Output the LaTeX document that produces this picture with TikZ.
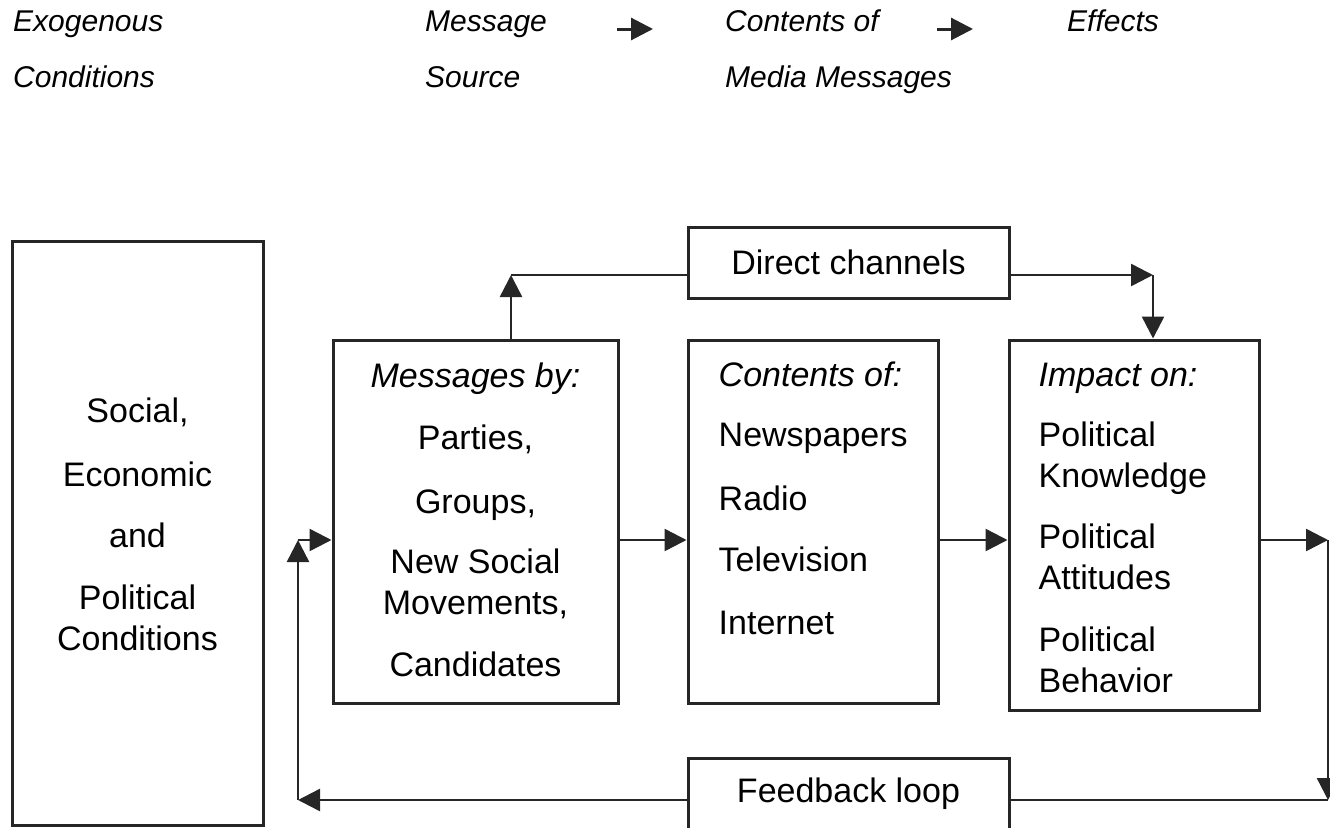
\documentclass[tikz,border=0pt]{standalone}
\usepackage{fontspec}
\setmainfont{Liberation Sans}
\usetikzlibrary{positioning,arrows.meta}
\tikzset{
	box/.style={draw=black!85, line width=3pt, inner sep=0pt},
	body/.style={font=\fontsize{34}{41}\selectfont, inner sep=0pt},
	head/.style={font=\fontsize{30}{56}\selectfont\itshape, inner sep=0pt, align=left, anchor=north west},
	link/.style={draw=black!85, line width=2.5pt},
	arr/.style={link, -{Triangle[length=22pt,width=22pt]}},
	harr/.style={link, line width=3pt, -{Triangle[length=22pt,width=22pt]}},
}
\begin{document}
\begin{tikzpicture}[x=1pt, y=-1pt]
	\useasboundingbox (0,0) rectangle (1330,827);
	\node[head] (exo) at (13,10.5) {Exogenous\\Conditions};
	\node[head] (src) at (425,10.5) {Message\\Source};
	\node[head] (med) at (725,10) {Contents of\\Media Messages};
	\node[head] (eff) at (1067,10) {Effects};
	\coordinate (h1a) at (617,29);
	\coordinate (h1b) at (653,29);
	\coordinate (h2a) at (937,29);
	\coordinate (h2b) at (973,29);
	\draw[harr] (h1a) -- (h1b);
	\draw[harr] (h2a) -- (h2b);
	\node[box, minimum width=251pt, minimum height=584pt] (soc) at (137.5,533) {};
	\node[box, minimum width=285pt, minimum height=363pt] (msg) at (475.5,521.5) {};
	\node[box, minimum width=250pt, minimum height=363pt] (cont) at (813,521.5) {};
	\node[box, minimum width=250pt, minimum height=370pt] (imp) at (1134,525) {};
	\node[box, body, minimum width=321pt, minimum height=71pt] (dir) at (848.5,262.5) {Direct channels};
	\node[box, body, minimum width=321pt, minimum height=72pt] (fb) at (848.5,794) {Feedback loop};
	\node[body, align=center, below=158pt of soc.north] (soctxt) {Social,\\[23pt]Economic\\[20pt]and\\[21pt]Political\\Conditions};
	\node[body, align=center, below=24pt of msg.north] (msgtxt) {\itshape Messages by:\\[21pt]Parties,\\[23pt]Groups,\\[19pt]New Social\\Movements,\\[21pt]Candidates};
	\node[body, align=left, below right=23pt and 32pt of cont.north west] (conttxt) {\itshape Contents of:\\[19pt]Newspapers\\[23pt]Radio\\[20pt]Television\\[22pt]Internet};
	\node[body, align=left, below right=24pt and 31pt of imp.north west] (imptxt) {\itshape Impact on:\\[19pt]Political\\Knowledge\\[20pt]Political\\Attitudes\\[21pt]Political\\Behavior};
	\coordinate (up) at (511,275);
	\coordinate (dn) at (1153,275);
	\coordinate (mid) at (0,540);
	\coordinate (rt) at (1328,540);
	\coordinate (br) at (1328,800);
	\coordinate (bl) at (298,800);
	\coordinate (lt) at (298,540);
	\draw[arr] (msg.north -| up) -- (up);
	\draw[link] (up) -- (dir.west |- up);
	\draw[arr] (dir.east |- dn) -- (dn);
	\draw[arr] (dn) -- (imp.north -| dn);
	\draw[arr] (msg.east |- mid) -- (cont.west |- mid);
	\draw[arr] (cont.east |- mid) -- (imp.west |- mid);
	\draw[arr] (imp.east |- mid) -- (rt);
	\draw[arr] (rt) -- (br);
	\draw[link] (br) -- (fb.east |- br);
	\draw[arr] (fb.west |- br) -- (bl);
	\draw[arr] (bl) -- (lt);
	\draw[arr] (lt) -- (msg.west |- lt);
\end{tikzpicture}
\end{document}
